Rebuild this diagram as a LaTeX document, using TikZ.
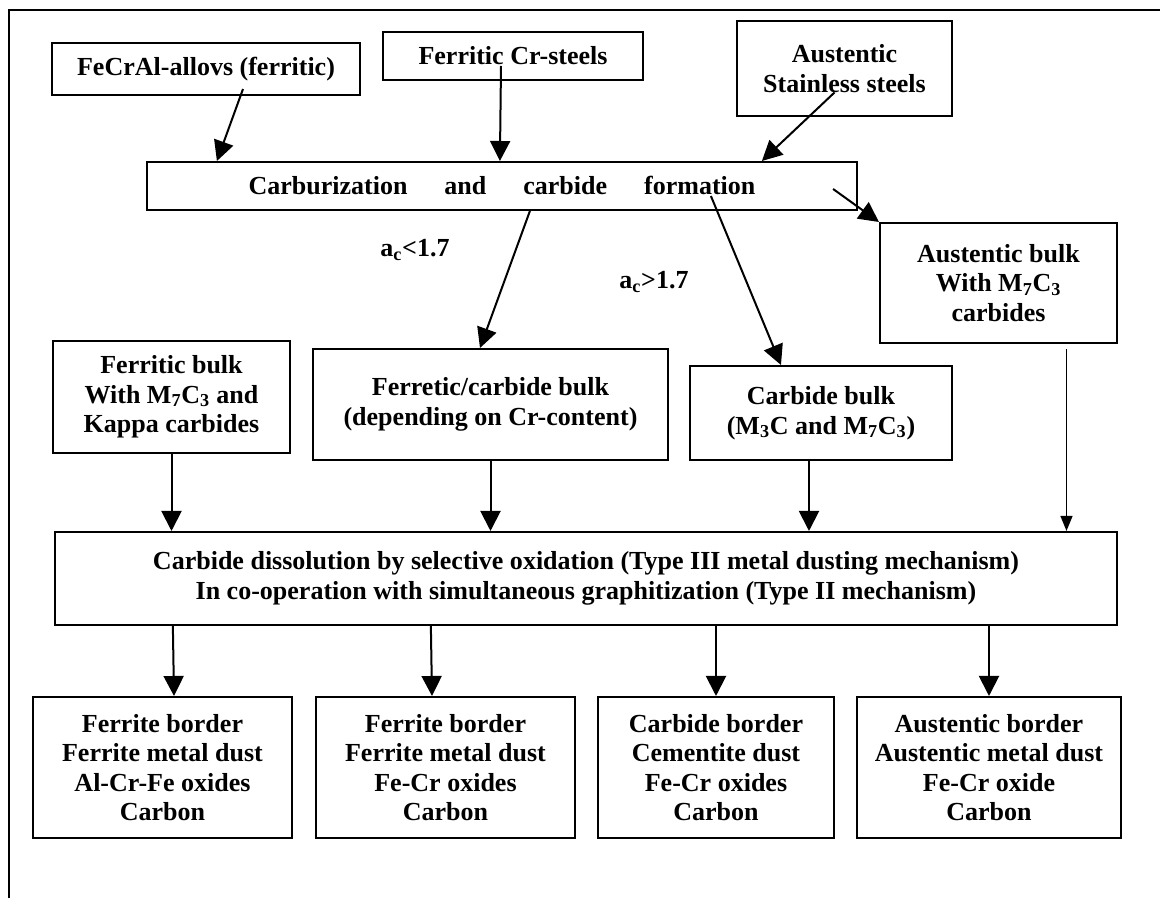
\documentclass[tikz,border=0pt]{standalone}
\usepackage{fontspec}
\setmainfont{Liberation Serif}
\usetikzlibrary{arrows.meta,calc}
\begin{document}
\begin{tikzpicture}[x=0.025cm,y=-0.025cm,
    every node/.style={font=\fontsize{18.5}{21}\selectfont\bfseries},
    box/.style={draw,line width=0.05cm,align=center,inner sep=0pt},
    arr/.style={line width=0.05cm,-{Triangle[length=0.5cm,width=0.5cm]}},
    arrsmall/.style={line width=0.04cm,-{Triangle[length=0.38cm,width=0.3cm]}}]
    \useasboundingbox (0,0) rectangle (1160,898);
    \fill[white] (0,0) rectangle (1160,898);
    \draw[line width=0.07cm] (9,905) -- (9,10) -- (1170,10);
    % starting materials
    \node[box,minimum width=7.7cm,minimum height=1.3cm] (feal) at (206,69) {FeCrAl-allovs (ferritic)};
    \node[box,minimum width=6.5cm,minimum height=1.2cm] (crst) at (513,56) {Ferritic Cr-steels};
    \node[box,minimum width=5.375cm,minimum height=2.375cm] (aust) at (844.5,68.5) {Austentic\\Stainless steels};
    % carburization
    \node[box,minimum width=17.75cm,minimum height=1.2cm] (carb) at (502,186)
        {Carburization\hspace{1.42em}and\hspace{1.42em}carbide\hspace{1.42em}formation};
    \node (lt) at (415,250) {a\textsubscript{c}<1.7};
    \node (gt) at (654,282) {a\textsubscript{c}>1.7};
    % bulk structures
    \node[box,minimum width=5.925cm,minimum height=3cm] (abulk) at (998.5,283) {Austentic bulk\\With M\textsubscript{7}C\textsubscript{3}\\carbides};
    \node[box,minimum width=5.925cm,minimum height=2.8cm] (fbulk) at (171.5,397) {Ferritic bulk\\With M\textsubscript{7}C\textsubscript{3} and\\Kappa carbides};
    \node[box,minimum width=8.875cm,minimum height=2.775cm] (fcbulk) at (490.5,404.5) {Ferretic/carbide bulk\\(depending on Cr-content)};
    \node[box,minimum width=6.55cm,minimum height=2.35cm] (cbulk) at (821,413) {Carbide bulk\\(M\textsubscript{3}C and M\textsubscript{7}C\textsubscript{3})};
    % dissolution
    \node[box,minimum width=26.55cm,minimum height=2.325cm] (diss) at (586,578.5)
        {Carbide dissolution by selective oxidation (Type III metal dusting mechanism)\\In co-operation with simultaneous graphitization (Type II mechanism)};
    % products
    \node[box,minimum width=6.475cm,minimum height=3.525cm] (pa) at (162.5,767.5) {Ferrite border\\Ferrite metal dust\\Al-Cr-Fe oxides\\Carbon};
    \node[box,minimum width=6.475cm,minimum height=3.525cm] (pb) at (445.5,767.5) {Ferrite border\\Ferrite metal dust\\Fe-Cr oxides\\Carbon};
    \node[box,minimum width=5.9cm,minimum height=3.525cm] (pc) at (716,767.5) {Carbide border\\Cementite dust\\Fe-Cr oxides\\Carbon};
    \node[box,minimum width=6.6cm,minimum height=3.525cm] (pd) at (989,767.5) {Austentic border\\Austentic metal dust\\Fe-Cr oxide\\Carbon};
    % arrows
    \draw[arr] ($(feal.south)+(37,-7)$) -- ($(carb.north west)+(71,0)$);
    \draw[arr] ($(crst.center)+(-12,10)$) -- ($(carb.north west)+(354,0)$);
    \draw[arr] ($(aust.center)+(-10,24)$) -- ($(carb.north west)+(616,0)$);
    \draw[arr] ($(carb.north east)+(-25,28)$) -- (abulk.north west);
    \draw[arr] ($(carb.south west)+(384,0)$) -- ($(fcbulk.north)+(-10.5,0)$);
    \draw[arr] ($(carb.south west)+(565,-15)$) -- ($(cbulk.north west)+(92,0)$);
    \draw[arr] (fbulk.south) -- (fbulk.south |- diss.north);
    \draw[arr] (fcbulk.south) -- (fcbulk.south |- diss.north);
    \draw[arr] ($(cbulk.south)+(-12,0)$) -- ($(cbulk.south |- diss.north)+(-12,0)$);
    \draw[arrsmall] ($(abulk.south)+(68,5)$) -- ($(abulk.south |- diss.north)+(68,0)$);
    \draw[arr] ($(diss.south west)+(119,0)$) -- ($(pa.north)+(11.5,0)$);
    \draw[arr] ($(diss.south west)+(377,0)$) -- ($(pb.north)+(-13.5,0)$);
    \draw[arr] (pc.north |- diss.south) -- (pc.north);
    \draw[arr] (pd.north |- diss.south) -- (pd.north);
\end{tikzpicture}
\end{document}
